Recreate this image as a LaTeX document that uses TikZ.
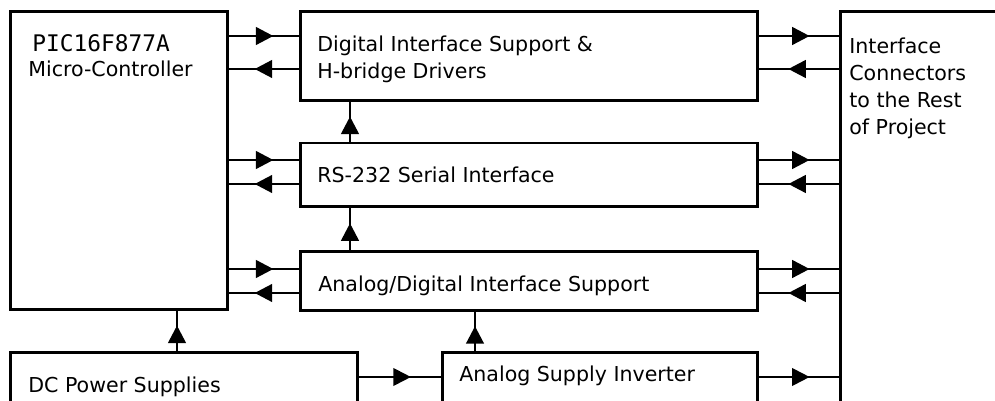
\documentclass[tikz,border=0pt]{standalone}
\usepackage{fontspec}
\setmainfont{DejaVu Sans}
\newfontfamily\picmono{DejaVu Sans Mono}
\usetikzlibrary{arrows.meta,decorations.markings}

\begin{document}
\begin{tikzpicture}[x=0.02cm,y=-0.02cm]
    \tikzstyle{block}=[rectangle,draw=black,line width=0.06cm,inner sep=0pt,outer sep=0pt]
    \tikzstyle{txt}=[inner sep=0pt,anchor=base west,align=left,font=\fontsize{11.7}{15.5}\selectfont]
    \tikzstyle{link}=[line width=0.055cm,postaction={decorate},
        decoration={markings,mark=at position 0.63 with {\arrow{Triangle[length=0.35cm,width=0.35cm]}}}]
    \useasboundingbox (0,0) rectangle (995,401);
    \clip (0,0) rectangle (995,401);

    % blocks
    \node[block,minimum width=4.36cm,minimum height=5.98cm] (mcu) at (119,160.5) {};
    \node[block,minimum width=9.16cm,minimum height=1.8cm] (dig) at (529,56) {};
    \node[block,minimum width=9.16cm,minimum height=1.28cm] (rs) at (529,175) {};
    \node[block,minimum width=9.16cm,minimum height=1.2cm] (ad) at (529,281) {};
    \node[block,minimum width=6.96cm,minimum height=1.56cm] (dc) at (184,391) {};
    \node[block,minimum width=6.32cm,minimum height=1.56cm] (asi) at (600,391) {};
    \node[block,minimum width=3.6cm,minimum height=8.38cm] (ifc) at (930,220.5) {};

    % texts (multi-line ones sit on their last baseline)
    \node[txt,font=\picmono\fontsize{13}{15}\selectfont] (mcu-name) at (32,52) {PIC16F877A};
    \node[txt] (mcu-text) at (28,77) {Micro-Controller};
    \node[txt] (dig-text) at (317,79) {Digital Interface Support \&\\H-bridge Drivers};
    \node[txt] (rs-text) at (317,183) {RS-232 Serial Interface};
    \node[txt] (ad-text) at (318,292) {Analog/Digital Interface Support};
    \node[txt] (dc-text) at (28,393) {DC Power Supplies};
    \node[txt] (asi-text) at (459,382) {Analog Supply Inverter};
    \node[txt] (ifc-text) at (849,135) {Interface\\Connectors\\to the Rest\\of Project};

    % bus pairs
    \foreach \blk/\yin/\yout in {dig/36/69, rs/160/184, ad/269/293}
    {
        \draw[link] (mcu.east |- 0,\yin) -- (\blk.west |- 0,\yin);
        \draw[link] (\blk.west |- 0,\yout) -- (mcu.east |- 0,\yout);
        \draw[link] (\blk.east |- 0,\yin) -- (ifc.west |- 0,\yin);
        \draw[link] (ifc.west |- 0,\yout) -- (\blk.east |- 0,\yout);
    }

    % upward links
    \draw[link] (rs.north -| 350,0) -- (dig.south -| 350,0);
    \draw[link] (ad.north -| 350,0) -- (rs.south -| 350,0);
    \draw[link] (dc.north -| 177,0) -- (mcu.south -| 177,0);
    \draw[link] (asi.north -| 475,0) -- (ad.south -| 475,0);

    % supply links
    \draw[link,line width=0.04cm] (dc.east |- 0,377) -- (asi.west |- 0,377);
    \draw[link,line width=0.04cm] (asi.east |- 0,377) -- (ifc.west |- 0,377);
\end{tikzpicture}
\end{document}
